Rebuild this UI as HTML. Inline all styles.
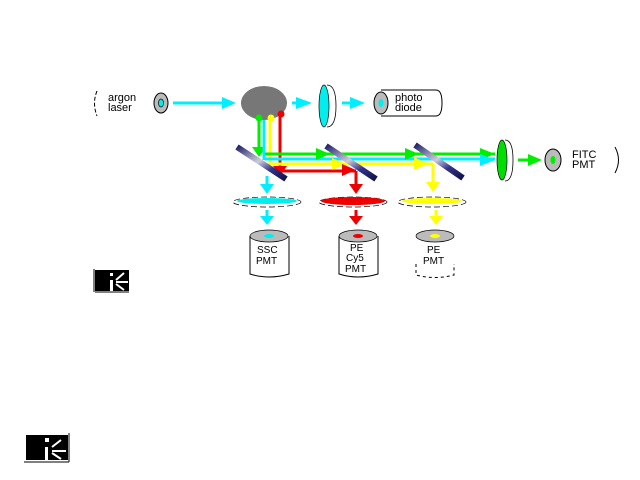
<!DOCTYPE html>
<html><head><meta charset="utf-8"><style>
html,body{margin:0;padding:0;background:#fff;}
svg{display:block;font-family:"Liberation Sans",sans-serif;}
</style></head><body>
<svg width="640" height="480" viewBox="0 0 640 480">
<defs>
<linearGradient id="mg" x1="0" y1="0" x2="1" y2="1">
<stop offset="0" stop-color="#22226a"/><stop offset="0.3" stop-color="#99b"/><stop offset="0.45" stop-color="#ccd"/><stop offset="0.7" stop-color="#33338a"/><stop offset="1" stop-color="#11114a"/>
</linearGradient>
</defs>
<!-- argon laser -->
<path d="M97,91 Q92,103 97,116" fill="none" stroke="#000" stroke-dasharray="4,2"/>
<text x="108" y="101" font-size="11">argon</text>
<text x="108" y="111" font-size="11">laser</text>
<ellipse cx="161" cy="103" rx="7" ry="10" fill="#bbb" stroke="#000"/>
<ellipse cx="161" cy="103" rx="2.5" ry="4" fill="#0ee" stroke="#000" stroke-width="0.7"/>
<!-- arrows cyan -->
<line x1="173" y1="103" x2="224" y2="103" stroke="#0ef" stroke-width="3"/>
<polygon points="222,97 236,103 222,109" fill="#0ef"/>
<ellipse cx="264" cy="103" rx="23" ry="17" fill="#777"/>
<line x1="292" y1="103" x2="300" y2="103" stroke="#0ef" stroke-width="3"/>
<polygon points="296,97 312,103 296,109" fill="#0ef"/>
<ellipse cx="324" cy="106" rx="5" ry="21" fill="#0ee" stroke="#000" stroke-width="0.7"/>
<path d="M327,85 Q336,85 336,106 Q336,127 327,127" fill="none" stroke="#000" stroke-width="0.8"/>
<line x1="342" y1="103" x2="352" y2="103" stroke="#0ef" stroke-width="3"/>
<polygon points="350,97 365,103 350,109" fill="#0ef"/>
<!-- photodiode -->
<path d="M381,90 H436 Q442,90 442,103 Q442,116 436,116 H381" fill="#fff" stroke="#000"/>
<ellipse cx="381" cy="103" rx="7" ry="11" fill="#bbb" stroke="#000"/>
<ellipse cx="381" cy="103" rx="2.5" ry="4" fill="#0ee"/>
<text x="395" y="101" font-size="11">photo</text>
<text x="395" y="111" font-size="11">diode</text>
<!-- vertical beams -->
<line x1="259" y1="120" x2="259" y2="150" stroke="#0e0" stroke-width="3"/>
<polygon points="252,147 259,157 266,147" fill="#0e0"/>
<line x1="264" y1="120" x2="264" y2="160" stroke="#0ef" stroke-width="3"/>
<line x1="270" y1="120" x2="270" y2="165" stroke="#ff0" stroke-width="3"/>
<line x1="280" y1="115" x2="280" y2="168" stroke="#e00" stroke-width="3"/>
<polygon points="273,166 280,176 287,166" fill="#e00"/>
<circle cx="259" cy="118" r="3.5" fill="#0e0"/>
<circle cx="271" cy="118" r="3.5" fill="#ff0"/>
<circle cx="281" cy="114" r="3.5" fill="#e00"/>
<!-- horizontal beams -->
<line x1="265" y1="154" x2="495" y2="154" stroke="#0e0" stroke-width="3"/>
<line x1="265" y1="159" x2="495" y2="159" stroke="#0ef" stroke-width="3"/>
<line x1="272" y1="164" x2="433" y2="164" stroke="#ff0" stroke-width="3"/>
<line x1="280" y1="171" x2="356" y2="171" stroke="#e00" stroke-width="3"/>
<polygon points="316,148 330,154 316,160" fill="#0e0"/>
<polygon points="405,148 419,154 405,160" fill="#0e0"/>
<polygon points="480,148 495,154 480,160" fill="#0e0"/>
<polygon points="480,154 495,160 480,166" fill="#0ef"/>
<polygon points="332,158 346,164 332,170" fill="#ff0"/>
<polygon points="342,164 356,170 342,176" fill="#e00"/>
<polygon points="414,157 428,164 414,170" fill="#ff0"/>
<!-- down arrows from mirrors -->
<line x1="267" y1="176" x2="267" y2="186" stroke="#0ef" stroke-width="3"/>
<polygon points="260,184 267,194 274,184" fill="#0ef"/>
<line x1="356" y1="171" x2="356" y2="186" stroke="#e00" stroke-width="3"/>
<polygon points="349,184 356,194 363,184" fill="#e00"/>
<line x1="433" y1="164" x2="433" y2="184" stroke="#ff0" stroke-width="3"/>
<polygon points="426,182 433,192 440,182" fill="#ff0"/>
<!-- mirrors -->
<line x1="237" y1="147" x2="286" y2="179" stroke="url(#mg)" stroke-width="6"/>
<line x1="326" y1="146" x2="376" y2="179" stroke="url(#mg)" stroke-width="6"/>
<line x1="415" y1="145" x2="463" y2="178" stroke="url(#mg)" stroke-width="6"/>
<!-- FITC -->
<ellipse cx="502" cy="160" rx="5" ry="20" fill="#0d0" stroke="#000" stroke-width="0.7"/>
<path d="M505,140 Q513,140 513,160 Q513,181 505,181" fill="none" stroke="#000" stroke-width="0.8"/>
<line x1="518" y1="160" x2="530" y2="160" stroke="#0e0" stroke-width="3"/>
<polygon points="528,154 542,160 528,166" fill="#0e0"/>
<ellipse cx="553" cy="160" rx="8" ry="11" fill="#bbb" stroke="#000"/>
<ellipse cx="553" cy="160" rx="2.5" ry="4" fill="#0e0"/>
<text x="572" y="158" font-size="11">FITC</text>
<text x="572" y="168" font-size="11">PMT</text>
<path d="M615,147 Q622,160 615,173" fill="none" stroke="#000"/>
<!-- filters -->
<ellipse cx="267" cy="202" rx="34" ry="5" fill="#fff" stroke="#000" stroke-width="0.7" stroke-dasharray="6,3"/>
<ellipse cx="267" cy="201" rx="30" ry="3" fill="#0ee"/>
<ellipse cx="353" cy="202" rx="34" ry="5" fill="#fff" stroke="#000" stroke-width="0.7" stroke-dasharray="6,3"/>
<ellipse cx="353" cy="201" rx="32" ry="4" fill="#e00"/>
<ellipse cx="432" cy="202" rx="34" ry="5" fill="#fff" stroke="#000" stroke-width="0.7" stroke-dasharray="6,3"/>
<ellipse cx="432" cy="201" rx="30" ry="3" fill="#ff0"/>
<!-- down arrows to PMTs -->
<line x1="267" y1="210" x2="267" y2="218" stroke="#0ef" stroke-width="3"/>
<polygon points="260,216 267,225 274,216" fill="#0ef"/>
<line x1="356" y1="210" x2="356" y2="218" stroke="#e00" stroke-width="3"/>
<polygon points="349,216 356,225 363,216" fill="#e00"/>
<line x1="436" y1="210" x2="436" y2="218" stroke="#ff0" stroke-width="3"/>
<polygon points="429,216 436,225 443,216" fill="#ff0"/>
<!-- PMTs -->
<path d="M250,236 V274 Q269,280 289,274 V236" fill="#fff" stroke="#000"/>
<ellipse cx="269" cy="236" rx="19" ry="6" fill="#bbb" stroke="#000" stroke-width="0.7"/>
<ellipse cx="269" cy="236" rx="5" ry="2" fill="#0ee"/>
<text x="257" y="253" font-size="10">SSC</text>
<text x="256" y="264" font-size="10">PMT</text>
<path d="M339,236 V274 Q358,280 378,274 V236" fill="#fff" stroke="#000"/>
<ellipse cx="358" cy="236" rx="19" ry="6" fill="#bbb" stroke="#000" stroke-width="0.7"/>
<ellipse cx="358" cy="236" rx="5" ry="2" fill="#e00"/>
<text x="350" y="251" font-size="10">PE</text>
<text x="346" y="261" font-size="10">Cy5</text>
<text x="345" y="272" font-size="10">PMT</text>
<path d="M416,264 V275 Q435,280 454,275 V264" fill="none" stroke="#000" stroke-dasharray="3,3"/>
<ellipse cx="435" cy="236" rx="19" ry="6" fill="#bbb" stroke="#000" stroke-width="0.7"/>
<ellipse cx="435" cy="236" rx="5" ry="2" fill="#ff0"/>
<text x="427" y="253" font-size="10">PE</text>
<text x="423" y="264" font-size="10">PMT</text>
<!-- icons -->
<g>
<rect x="95" y="270" width="34" height="21" fill="#000"/>
<line x1="94" y1="269" x2="94" y2="292" stroke="#000"/>
<line x1="95" y1="292" x2="129" y2="292" stroke="#000"/>
<rect x="110" y="273" width="3" height="3" fill="#fff"/>
<rect x="110" y="280" width="3" height="11" fill="#fff"/>
<line x1="116" y1="280" x2="124" y2="273" stroke="#fff" stroke-width="2"/>
<line x1="116" y1="282" x2="128" y2="282" stroke="#fff" stroke-width="2"/>
<line x1="116" y1="284" x2="124" y2="290" stroke="#fff" stroke-width="2"/>
</g>
<g>
<rect x="26" y="435" width="42" height="25" fill="#000"/>
<line x1="69" y1="433" x2="69" y2="462" stroke="#000"/>
<line x1="24" y1="462" x2="69" y2="462" stroke="#000"/>
<rect x="45" y="438" width="4" height="4" fill="#fff"/>
<rect x="45" y="447" width="3" height="13" fill="#fff"/>
<line x1="52" y1="447" x2="61" y2="440" stroke="#fff" stroke-width="2"/>
<line x1="52" y1="451" x2="66" y2="451" stroke="#fff" stroke-width="2"/>
<line x1="52" y1="453" x2="61" y2="459" stroke="#fff" stroke-width="2"/>
</g>
</svg>
</body></html>
